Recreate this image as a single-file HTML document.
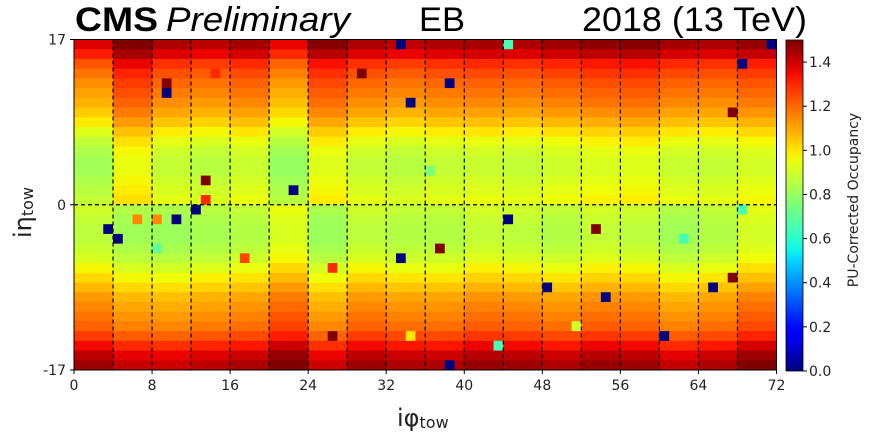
<!DOCTYPE html>
<html><head><meta charset="utf-8"><style>
html,body{margin:0;padding:0;background:#fff;}
svg{display:block;font-family:"DejaVu Sans","Liberation Sans",sans-serif;}
</style></head><body>
<svg id="chart" width="869" height="436" viewBox="0 0 869 436" xmlns="http://www.w3.org/2000/svg">
<g id="cells"></g>
<g id="grid"></g>
<rect x="74" y="39.5" width="702.5" height="330.5" fill="none" stroke="#000" stroke-width="1"/>
<g id="xticks"></g>
<g id="yticks"></g>
<text x="397" y="426" font-size="24" fill="#222">iφ<tspan font-size="16" dy="2">tow</tspan></text>
<text transform="translate(31,238) rotate(-90)" font-size="24" fill="#222">iη<tspan font-size="16" dy="2">tow</tspan></text>
<text x="75" y="31" font-family="Liberation Sans, sans-serif" font-size="34" font-weight="bold" textLength="83" lengthAdjust="spacingAndGlyphs">CMS</text>
<text x="166" y="31" font-family="Liberation Sans, sans-serif" font-size="34" font-style="italic" textLength="184" lengthAdjust="spacingAndGlyphs">Preliminary</text>
<text x="419" y="31" font-family="Liberation Sans, sans-serif" font-size="34" textLength="46" lengthAdjust="spacingAndGlyphs">EB</text>
<text x="582" y="31" font-family="Liberation Sans, sans-serif" font-size="34" textLength="225" lengthAdjust="spacingAndGlyphs">2018 (13 TeV)</text>
<defs><linearGradient id="jetgrad" x1="0" y1="1" x2="0" y2="0"></linearGradient></defs>
<rect x="786" y="40" width="17" height="331" fill="url(#jetgrad)" stroke="#000" stroke-width="0.8"/>
<g id="cbticks"></g>
<text transform="translate(858,200) rotate(-90)" text-anchor="middle" font-size="14" fill="#222">PU-Corrected Occupancy</text>
</svg>
<script>
// Row profile (iη from +17 at top down to -17 at bottom), 34 rows
const rowProfile = [1.42,1.36,1.27,1.22,1.18,1.15,1.12,1.08,1.03,0.97,0.92,0.88,0.86,0.86,0.88,0.9,0.92,
                    0.88,0.86,0.85,0.85,0.87,0.9,0.95,1.0,1.05,1.1,1.13,1.16,1.19,1.25,1.33,1.4,1.44];
// Supermodule offsets (18 per half, 4 iφ each)
const smOffsetTop = [-0.04,0.09,0.02,0.0,0.03,-0.06,0.07,0.02,0.0,0.02,0.03,0.02,0.04,0.06,0.07,0.03,0.02,0.05];
const smOffsetBottom = [0.02,-0.03,-0.04,-0.02,0.0,0.07,-0.04,0.02,0.0,0.0,0.03,0.02,0.0,0.03,0.02,-0.03,0.0,0.06];
// Outlier towers: [iφ column index, row index from top, value]
const outliers = [[33,0,0],[9,4,1.5],[9,5,0],[14,3,1.3],[29,3,1.5],[34,6,0],[13,14,1.5],[22,15,0],[13,16,1.3],
 [12,17,0],[6,18,1.15],[8,18,1.15],[10,18,0],[3,19,0],[4,20,0],[8,21,0.7],[37,21,1.5],[17,22,1.25],[33,22,0],
 [26,23,1.3],[26,30,1.5],[34,30,1.0],[44,0,0.65],[71,0,0],[68,2,0],[38,4,0],[67,7,1.5],[36,13,0.75],[68,17,0.65],
 [44,18,0],[53,19,1.5],[62,20,0.65],[67,24,1.5],[48,25,0],[65,25,0],[54,26,0],[51,29,0.9],[60,30,0],[43,31,0.65],[38,33,0]];
const xTickLabels = [0,8,16,24,32,40,48,56,64,72];
const yTickLabels = [17,0,-17];
const cbTickLabels = [0.0,0.2,0.4,0.6,0.8,1.0,1.2,1.4];

const NS="http://www.w3.org/2000/svg";
const X0=74,X1=776.5,Y0=39.5,Y1=370,NC=72,NR=34,VMAX=1.5;
const xs=v=>X0+(X1-X0)*v/NC;
const ys=v=>Y0+(Y1-Y0)*(17-v)/34;
const rowY=r=>Y0+(Y1-Y0)*r/NR;
const cbY=v=>371-331*v/VMAX;
function interp(pts,t){for(let i=1;i<pts.length;i++){if(t<=pts[i][0]){const a=pts[i-1],b=pts[i];return a[1]+(b[1]-a[1])*(t-a[0])/(b[0]-a[0]);}}return pts[pts.length-1][1];}
function jet(v){const t=Math.max(0,Math.min(1,v/VMAX));
 const r=interp([[0,0],[0.35,0],[0.66,1],[0.89,1],[1,0.5]],t);
 const g=interp([[0,0],[0.125,0],[0.375,1],[0.64,1],[0.91,0],[1,0]],t);
 const b=interp([[0,0.5],[0.11,1],[0.34,1],[0.65,0],[1,0]],t);
 return `rgb(${Math.round(r*255)},${Math.round(g*255)},${Math.round(b*255)})`;}
function mk(tag,attrs,parent){const e=document.createElementNS(NS,tag);for(const k in attrs)e.setAttribute(k,attrs[k]);parent.appendChild(e);return e;}
const cells=document.getElementById('cells');
const vals=[];
for(let r=0;r<NR;r++){vals.push([]);for(let c=0;c<NC;c++){
 const sm=Math.floor(c/4);const off=r<17?smOffsetTop[sm]:smOffsetBottom[sm];
 vals[r].push(rowProfile[r]+off);}}
outliers.forEach(o=>{vals[o[1]][o[0]]=o[2];});
for(let r=0;r<NR;r++)for(let c=0;c<NC;c++){
 const e=mk('rect',{x:xs(c),y:rowY(r),width:xs(c+1)-xs(c)+0.4,height:rowY(r+1)-rowY(r)+0.4,fill:jet(vals[r][c])},cells);
 
 
}
const grid=document.getElementById('grid');
for(let c=4;c<NC;c+=4){const l=mk('line',{x1:xs(c),x2:xs(c),y1:Y0,y2:Y1,stroke:'#000','stroke-width':1.2,'stroke-dasharray':'4,3'},grid);
 
 }
const hl=mk('line',{x1:X0,x2:X1,y1:ys(0),y2:ys(0),stroke:'#000','stroke-width':1.2,'stroke-dasharray':'4,3'},grid);


const xt=document.getElementById('xticks');
xTickLabels.forEach(v=>{mk('line',{x1:xs(v),x2:xs(v),y1:Y1,y2:Y1+4,stroke:'#000'},xt);
 const t=mk('text',{x:xs(v),y:Y1+20,'text-anchor':'middle','font-size':14,fill:'#222'},xt);t.textContent=v;
 
 });
const yt=document.getElementById('yticks');
yTickLabels.forEach(v=>{mk('line',{x1:X0-4,x2:X0,y1:ys(v),y2:ys(v),stroke:'#000'},yt);
 const t=mk('text',{x:X0-8,y:ys(v)+5,'text-anchor':'end','font-size':14,fill:'#222'},yt);t.textContent=v;
 
 });
const grad=document.getElementById('jetgrad');
for(let i=0;i<=30;i++){mk('stop',{offset:(i/30),'stop-color':jet(VMAX*i/30)},grad);}
const cb=document.getElementById('cbticks');
cbTickLabels.forEach(v=>{mk('line',{x1:803,x2:807,y1:cbY(v),y2:cbY(v),stroke:'#000'},cb);
 const t=mk('text',{x:809,y:cbY(v)+5,'font-size':14,fill:'#222'},cb);t.textContent=v.toFixed(1);
 
 });
</script>
</body></html>
